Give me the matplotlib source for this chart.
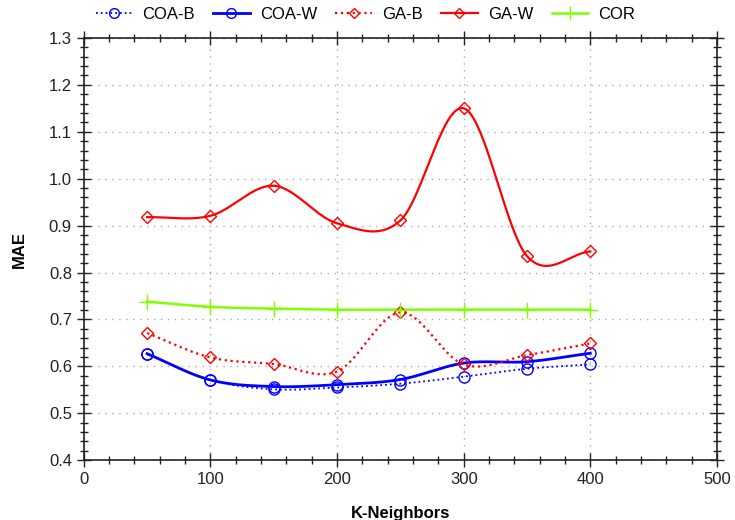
import numpy as np
import matplotlib.pyplot as plt
from matplotlib.ticker import MultipleLocator

plt.rcParams['font.family'] = ['Liberation Sans', 'DejaVu Sans']

# data
k = [50, 100, 150, 200, 250, 300, 350, 400]
coa_b = [0.626, 0.571, 0.551, 0.555, 0.563, 0.578, 0.595, 0.604]
coa_w = [0.627, 0.571, 0.557, 0.561, 0.572, 0.607, 0.610, 0.628]
ga_b = [0.671, 0.619, 0.605, 0.589, 0.715, 0.604, 0.624, 0.649]
ga_w = [0.918, 0.921, 0.985, 0.905, 0.911, 1.150, 0.835, 0.845]
cor = [0.738, 0.727, 0.723, 0.721, 0.721, 0.721, 0.721, 0.721]


# catmull-rom style smoothing, only for drawing the curves
def smooth(x, y, n=40):
    x = np.asarray(x, float)
    y = np.asarray(y, float)
    m = np.zeros_like(y)
    m[1:-1] = (y[2:] - y[:-2]) / (x[2:] - x[:-2])
    m[0] = (y[1] - y[0]) / (x[1] - x[0])
    m[-1] = (y[-1] - y[-2]) / (x[-1] - x[-2])
    xs_all, ys_all = [], []
    for i in range(len(x) - 1):
        h = x[i + 1] - x[i]
        t = np.linspace(0, 1, n)
        h00 = 2 * t ** 3 - 3 * t ** 2 + 1
        h10 = t ** 3 - 2 * t ** 2 + t
        h01 = -2 * t ** 3 + 3 * t ** 2
        h11 = t ** 3 - t ** 2
        xs_all.append(x[i] + t * h)
        ys_all.append(h00 * y[i] + h10 * h * m[i] + h01 * y[i + 1] + h11 * h * m[i + 1])
    return np.concatenate(xs_all), np.concatenate(ys_all)


fig = plt.figure(figsize=(7.35, 5.2), dpi=100)
ax = fig.add_axes([0.114, 0.115, 0.8615, 0.812])

series = [
    ('COA-B', coa_b, 'blue', ':', 'o', 8, 1.3),
    ('COA-W', coa_w, 'blue', '-', 'o', 8, 2.0),
    ('GA-B', ga_b, 'red', ':', 'D', 6, 1.6),
    ('GA-W', ga_w, 'red', '-', 'D', 6, 1.6),
    ('COR', cor, '#80ff00', '-', '+', 11, 1.8),
]

for name, vals, col, ls, mk, ms, lw in series:
    xs, ys = smooth(k, vals)
    ax.plot(xs, ys, color=col, ls=ls, lw=lw, zorder=3)
    ax.plot(k, vals, ls='none', marker=mk, ms=ms, mfc='none', mec=col,
            mew=1.0, zorder=4)
    # legend proxy
    ax.plot([], [], color=col, ls=ls, lw=lw, marker=mk, ms=ms - 1,
            mfc='none', mec=col, label=name)

ax.set_xlim(0, 500)
ax.set_ylim(0.4, 1.3)
ax.xaxis.set_major_locator(MultipleLocator(100))
ax.xaxis.set_minor_locator(MultipleLocator(20))
ax.yaxis.set_major_locator(MultipleLocator(0.1))
ax.yaxis.set_minor_locator(MultipleLocator(0.02))
ax.yaxis.set_major_formatter(plt.FuncFormatter(lambda v, p: f'{v:.1f}'))

ax.tick_params(which='major', direction='inout', length=10, width=1,
               labelsize=12, top=True, right=True, colors='#222222')
ax.tick_params(which='minor', direction='inout', length=6, width=1,
               top=True, right=True, colors='#222222')
for s in ax.spines.values():
    s.set_linewidth(1.2)
    s.set_color('#222222')

ax.grid(True, which='major', ls=(0, (1, 4)), color='#aaaaaa', lw=1)
ax.set_axisbelow(True)

ax.set_xlabel('K-Neighbors', fontsize=12, fontweight='bold', labelpad=14)
ax.set_ylabel('MAE', fontsize=12, fontweight='bold', labelpad=16)

fig.legend(loc='upper center', bbox_to_anchor=(0.497, 1.015), ncol=5,
           frameon=False, fontsize=12, handlelength=2.2, columnspacing=1.1,
           handletextpad=0.6)

fig.savefig('out.png', dpi=100)
